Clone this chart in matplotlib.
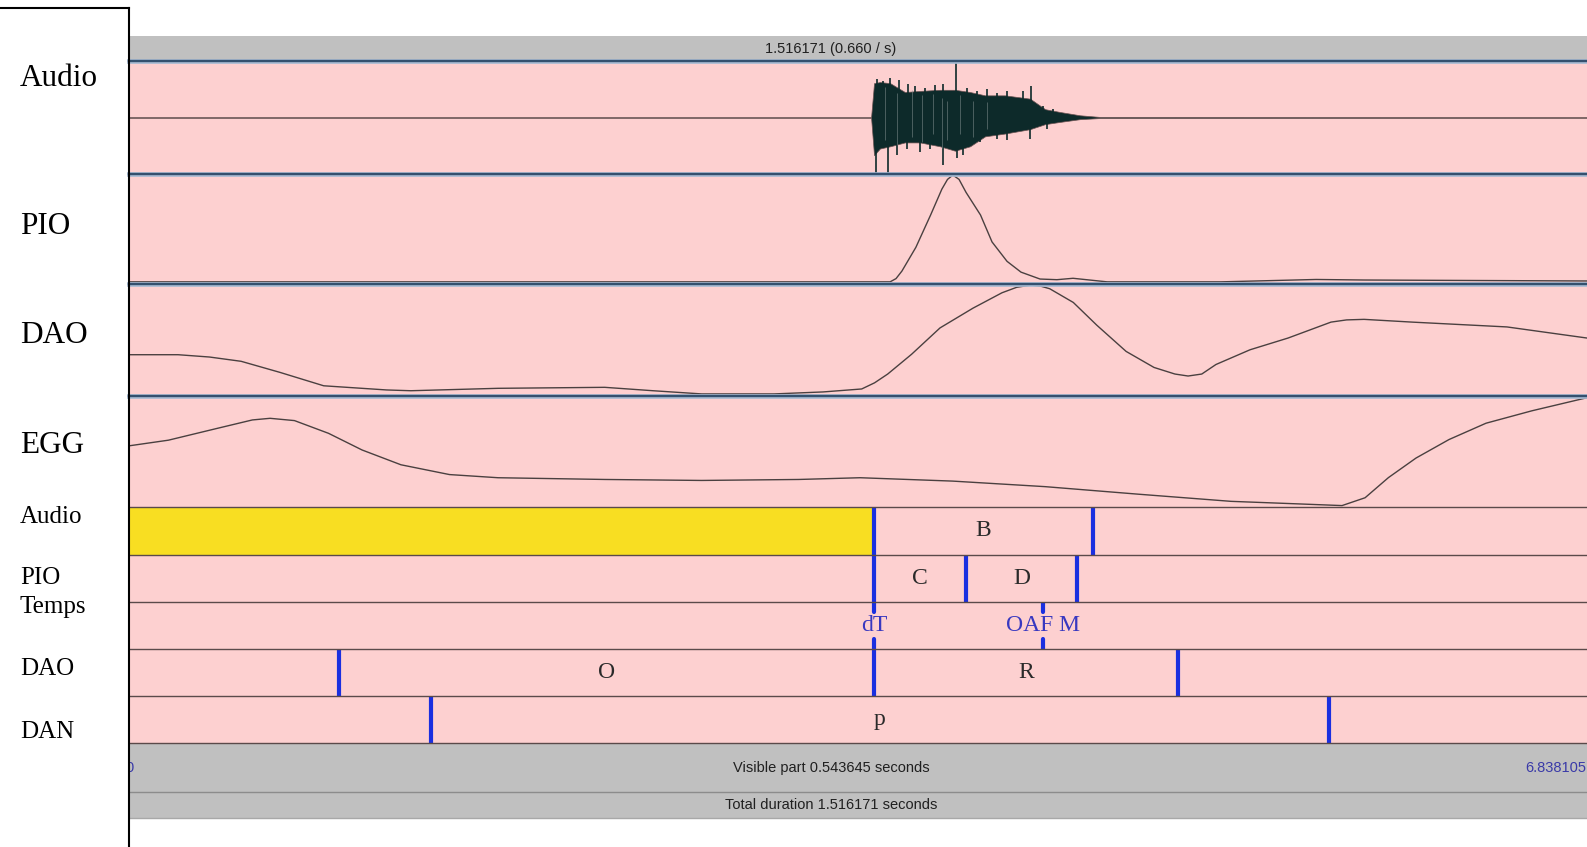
import matplotlib
matplotlib.use("Agg")
import matplotlib.pyplot as plt
from matplotlib.lines import Line2D

# ---- data -------------------------------------------------------------
visible_dur = 0.543645          # seconds shown in the editor window
top_caption = "1.516171 (0.660 / s)"
visible_caption = "Visible part 0.543645 seconds"
total_caption = "Total duration 1.516171 seconds"
left_time = "0"
right_time = "6.838105"

# audio waveform envelope (normalised amplitude, -1..1)
audio_t = [0.0, 0.2767, 0.2778, 0.2800, 0.2838, 0.2893, 0.2949, 0.3024, 0.3080,
           0.3136, 0.3192, 0.3266, 0.3360, 0.3416, 0.3471, 0.3546, 0.3621, 0.5436]
audio_hi = [0.005, 0.005, 0.62, 0.64, 0.62, 0.46, 0.48, 0.50, 0.50,
            0.46, 0.40, 0.40, 0.34, 0.15, 0.10, 0.04, 0.01, 0.005]
audio_lo = [-0.005, -0.005, -0.68, -0.56, -0.52, -0.45, -0.45, -0.52, -0.60,
            -0.52, -0.34, -0.29, -0.21, -0.12, -0.08, -0.03, -0.01, -0.005]
# individual peaks standing out of the envelope
top_spike_t = [0.2788, 0.2810, 0.2838, 0.2872, 0.2906, 0.2931, 0.2968, 0.3005, 0.3036,
               0.3083, 0.3124, 0.3161, 0.3198, 0.3235, 0.3273, 0.3310, 0.3335, 0.3362,
               0.3409, 0.3447]
top_spike_a = [0.69, 0.66, 0.72, 0.68, 0.60, 0.57, 0.54, 0.58, 0.60,
               0.99, 0.54, 0.48, 0.51, 0.45, 0.48, 0.33, 0.48, 0.57,
               0.21, 0.16]
bot_spike_t = [0.2785, 0.2829, 0.2862, 0.2900, 0.2949, 0.2987, 0.3036, 0.3086, 0.3111,
               0.3173, 0.3235, 0.3273, 0.3360, 0.3422]
bot_spike_a = [-1.0, -1.0, -0.68, -0.56, -0.62, -0.56, -0.86, -0.74, -0.68,
               -0.44, -0.38, -0.41, -0.38, -0.20]
# lighter streaks inside the burst
streak_t = [0.2819, 0.2862, 0.2918, 0.2955, 0.2998, 0.3030, 0.3049, 0.3098, 0.3148, 0.3198]
streak_hi = [0.55, 0.45, 0.50, 0.40, 0.42, 0.35, 0.30, 0.40, 0.30, 0.28]
streak_lo = [-0.40, -0.50, -0.35, -0.45, -0.30, -0.55, -0.40, -0.30, -0.35, -0.20]

# PIO, DAO, EGG traces (normalised 0..1 inside their panel)
pio_t = [0.0, 0.2838, 0.2860, 0.2882, 0.2934, 0.2989, 0.3031, 0.3052, 0.3072, 0.3095,
         0.3121, 0.3175, 0.3218, 0.3274, 0.3326, 0.3397, 0.3460, 0.3520, 0.3647,
         0.4072, 0.4426, 0.4605, 0.5436]
pio_v = [0.01, 0.01, 0.04, 0.11, 0.33, 0.63, 0.87, 0.96, 1.00, 0.96,
         0.84, 0.63, 0.38, 0.20, 0.10, 0.036, 0.03, 0.043, 0.01,
         0.01, 0.032, 0.027, 0.018]

dao_t = [0.0, 0.0183, 0.0300, 0.0418, 0.0563, 0.0726, 0.0961, 0.1051, 0.1376, 0.1774,
         0.1954, 0.2135, 0.2405, 0.2588, 0.2732, 0.2780, 0.2829, 0.2918, 0.3024, 0.3147,
         0.3255, 0.3310, 0.3362, 0.3400, 0.3433, 0.3521, 0.3609, 0.3718, 0.3822, 0.3900,
         0.3949, 0.4000, 0.4053, 0.4180, 0.4322, 0.4482, 0.4540, 0.4605, 0.4784, 0.5138,
         0.5436]
dao_v = [0.366, 0.366, 0.345, 0.306, 0.205, 0.083, 0.045, 0.038, 0.060, 0.069,
         0.038, 0.009, 0.009, 0.027, 0.054, 0.11, 0.19, 0.37, 0.61, 0.79,
         0.93, 0.98, 1.00, 0.99, 0.967, 0.842, 0.634, 0.396, 0.25, 0.19,
         0.172, 0.19, 0.277, 0.411, 0.518, 0.663, 0.683, 0.688, 0.663, 0.619,
         0.518]

egg_t = [0.0, 0.0147, 0.0328, 0.0460, 0.0526, 0.0617, 0.0744, 0.0869, 0.1014, 0.1195,
         0.1376, 0.1774, 0.2135, 0.2497, 0.2726, 0.3071, 0.3416, 0.3762, 0.4109, 0.4366,
         0.4523, 0.4609, 0.4696, 0.4799, 0.4922, 0.5060, 0.5231, 0.5436]
egg_v = [0.552, 0.604, 0.712, 0.790, 0.805, 0.784, 0.667, 0.514, 0.378, 0.288,
         0.259, 0.243, 0.234, 0.243, 0.259, 0.228, 0.177, 0.108, 0.042, 0.018,
         0.003, 0.075, 0.26, 0.44, 0.61, 0.76, 0.874, 0.994]

# TextGrid tiers
audio_tier_bounds = [0.2778, 0.3593]
audio_tier_labels = ["", "B", ""]
pio_tier_bounds = [0.2778, 0.3120, 0.3536]
pio_tier_labels = ["", "C", "D", ""]
temps_points = [0.2778, 0.3408]
temps_labels = ["dT", "OAF M"]
dao_tier_bounds = [0.0783, 0.2778, 0.3911]
dao_tier_labels = ["", "O", "R", ""]
dan_tier_bounds = [0.1126, 0.4474]
dan_tier_labels = ["", "p", ""]

signal_names = ["Audio", "PIO", "DAO", "EGG"]
tier_names = ["Audio", "PIO", "Temps", "DAO", "DAN"]

# ---- layout (pixels of the 1587x847 canvas) -----------------------------
W, H = 1587, 847
X0, X1 = 129, 1587
PINK = "#fdd0d0"
GRAY = "#c0c0c0"
CURVE = "#4a4040"
WAVE = "#0d2a2a"
BLUE = "#1a2fe0"
SERIF = "Liberation Serif"
SANS = "Liberation Sans"

fig = plt.figure(figsize=(W / 100, H / 100), dpi=100)
fig.patch.set_facecolor("white")


def px_axes(y0, y1, color):
    ax = fig.add_axes([X0 / W, 1 - y1 / H, (X1 - X0) / W, (y1 - y0) / H])
    ax.set_facecolor(color)
    ax.set_xlim(0, visible_dur)
    ax.set_xticks([])
    ax.set_yticks([])
    for s in ax.spines.values():
        s.set_visible(False)
    return ax


# top grey bar
ax_top = px_axes(36, 61, GRAY)
ax_top.text(0.4815, 0.5, top_caption, transform=ax_top.transAxes, ha="center",
            va="center", fontsize=10.5, family=SANS, color="#202020")

# signal panels
panel_rows = [(61, 174), (174, 284), (284, 396), (396, 507)]
ax_audio, ax_pio, ax_dao, ax_egg = [px_axes(a, b, PINK) for a, b in panel_rows]

ax_audio.set_ylim(-1.02, 1.02)
ax_audio.fill_between(audio_t, audio_lo, audio_hi, facecolor=WAVE,
                      edgecolor="#6a5252", lw=0.5)
ax_audio.vlines(top_spike_t, 0, top_spike_a, color=WAVE, lw=1.2)
ax_audio.vlines(bot_spike_t, bot_spike_a, 0, color=WAVE, lw=1.2)
ax_audio.vlines(streak_t, streak_lo, streak_hi, color="#8a9696", lw=0.7, alpha=0.5)

for ax, t, v in [(ax_pio, pio_t, pio_v), (ax_dao, dao_t, dao_v), (ax_egg, egg_t, egg_v)]:
    ax.set_ylim(-0.01, 1.01)
    ax.plot(t, v, color=CURVE, lw=1.0)

# tiers
tier_rows = [(507, 555), (555, 602), (602, 649), (649, 696), (696, 743)]
tiers = [px_axes(a, b, PINK) for a, b in tier_rows]
for ax in tiers:
    ax.set_ylim(0, 1)

interval_tiers = [
    (tiers[0], audio_tier_bounds, audio_tier_labels),
    (tiers[1], pio_tier_bounds, pio_tier_labels),
    (tiers[3], dao_tier_bounds, dao_tier_labels),
    (tiers[4], dan_tier_bounds, dan_tier_labels),
]
# selected interval (first interval of the Audio tier)
tiers[0].axvspan(0, audio_tier_bounds[0], color="#f8de22", zorder=0)

for ax, bounds, labels in interval_tiers:
    edges = [0.0] + bounds + [visible_dur]
    for b in bounds:
        ax.axvline(b, color=BLUE, lw=3.0, solid_capstyle="round", zorder=3)
    for i, lab in enumerate(labels):
        if lab:
            ax.text((edges[i] + edges[i + 1]) / 2, 0.5, lab, ha="center",
                    va="center", fontsize=17, family=SERIF, color="#2a2a2a")

ax_temps = tiers[2]
for p, lab in zip(temps_points, temps_labels):
    ax_temps.axvline(p, 0.0, 0.22, color=BLUE, lw=3.0, solid_capstyle="round")
    ax_temps.axvline(p, 0.78, 1.0, color=BLUE, lw=3.0, solid_capstyle="round")
    ax_temps.text(p, 0.5, lab, ha="center", va="center", fontsize=17,
                  family=SERIF, color="#3838c0")

# bottom grey bars
ax_vis = px_axes(743, 792, GRAY)
ax_vis.set_ylim(0, 1)
ax_vis.text(0.4815, 0.5, visible_caption, transform=ax_vis.transAxes, ha="center",
            va="center", fontsize=10.5, family=SANS, color="#202020")
ax_vis.text(0.0, 0.5, left_time, ha="center", va="center", fontsize=10.5,
            family=SANS, color="#3a3aa8", clip_on=True)
ax_vis.text(0.5205, 0.5, right_time, ha="left", va="center", fontsize=10.5,
            family=SANS, color="#3a3aa8", clip_on=True)
ax_tot = px_axes(792, 818, GRAY)
ax_tot.text(0.4815, 0.5, total_caption, transform=ax_tot.transAxes, ha="center",
            va="center", fontsize=10.5, family=SANS, color="#202020")


def fig_hline(y, color, lw):
    fig.add_artist(Line2D([X0 / W, X1 / W], [1 - y / H, 1 - y / H], color=color,
                          lw=lw, transform=fig.transFigure, zorder=5))


for y in [61, 174, 284, 396]:
    fig_hline(y, "#a8bcd4", 3.4)
    fig_hline(y, "#34506e", 1.7)
for y in [507, 555, 602, 649, 696, 743]:
    fig_hline(y, "#5a4a4a", 1.0)
fig_hline(792, "#8c8c8c", 1.0)
fig_hline(818, "#a8a8a8", 1.0)

# left label box
fig.add_artist(Line2D([0, X0 / W], [1 - 8 / H, 1 - 8 / H], color="black", lw=1.5,
                      transform=fig.transFigure, zorder=6))
fig.add_artist(Line2D([X0 / W, X0 / W], [1 - 8 / H, 0], color="black", lw=1.5,
                      transform=fig.transFigure, zorder=6))

for name, yb in zip(signal_names, [86, 233.5, 343, 453]):
    fig.text(20 / W, 1 - yb / H, name, ha="left", va="baseline", fontsize=22.5,
             family=SERIF, color="black")
for name, yb in zip(tier_names, [523, 584, 613, 675, 737.5]):
    fig.text(20 / W, 1 - yb / H, name, ha="left", va="baseline", fontsize=18,
             family=SERIF, color="black")

fig.savefig("out.png", dpi=100, facecolor="white")
